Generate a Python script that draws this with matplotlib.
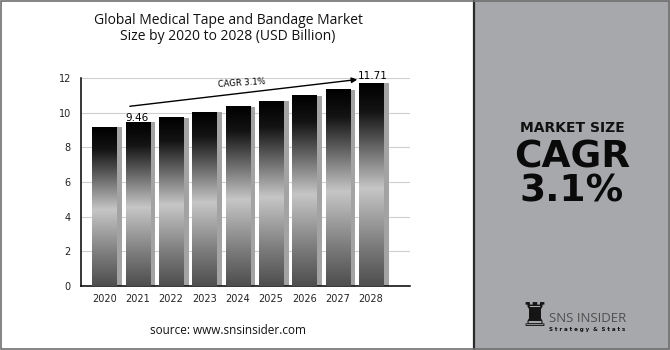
import matplotlib.pyplot as plt
import numpy as np
from matplotlib.colors import LinearSegmentedColormap
from matplotlib.patches import Rectangle

years = ["2020", "2021", "2022", "2023", "2024", "2025", "2026", "2027", "2028"]
market_size = [9.15, 9.46, 9.72, 10.03, 10.35, 10.66, 10.98, 11.33, 11.71]
y_ticks = [0, 2, 4, 6, 8, 10, 12]

W, H = 670, 350
fig = plt.figure(figsize=(W / 100, H / 100), dpi=100)

# background panels
fig.patches.append(Rectangle((474 / W, 0), 1 - 474 / W, 1, transform=fig.transFigure,
                             facecolor="#a7a8ab", edgecolor="none", zorder=0))
fig.add_artist(plt.Line2D([474 / W, 474 / W], [0, 1], transform=fig.transFigure,
                          color="#2a2a2a", lw=1.6))
fig.patches.append(Rectangle((0.001, 0.002), 0.997, 0.996, transform=fig.transFigure,
                             facecolor="none", edgecolor="#707070", lw=1.2, zorder=5))

ax = fig.add_axes([80.7 / W, 1 - 286 / H, (410 - 80.7) / W, (286 - 78) / H])

x = np.arange(len(years))
bw = 0.73

# bar gradient: black top, light band in the middle, dark grey bottom
cmap = LinearSegmentedColormap.from_list("bar", [
    (0.0, "#4e4e4e"), (0.2, "#7c7c7c"), (0.48, "#c6c6c6"),
    (0.72, "#555555"), (0.86, "#141414"), (1.0, "#000000")])
grad = np.linspace(0, 1, 256).reshape(-1, 1)

for xi, v in zip(x, market_size):
    # shadow on the right
    ax.add_patch(Rectangle((xi - bw / 2 + 0.16, 0), bw, v, facecolor="#a3a3a3",
                           edgecolor="none", zorder=2))
    ax.imshow(grad, cmap=cmap, origin="lower", aspect="auto",
              extent=[xi - bw / 2, xi + bw / 2, 0, v], zorder=3)

ax.set_xlim(-0.71, 9.17)
ax.set_ylim(0, 12)
ax.set_yticks(y_ticks)
ax.set_xticks(x)
ax.set_xticklabels(years)
ax.tick_params(length=0, labelsize=7, colors="#222222")
ax.tick_params(axis="y", pad=7)
ax.tick_params(axis="x", pad=6)
ax.grid(axis="y", color="#cfcfcf", lw=0.8, zorder=0)
ax.set_axisbelow(True)
for s in ["top", "right"]:
    ax.spines[s].set_visible(False)
ax.spines["left"].set_linewidth(1.1)
ax.spines["bottom"].set_linewidth(1.1)

# labels and CAGR arrow
ax.text(0.97, 9.72, "9.46", ha="center", va="center", fontsize=7.5, zorder=6)
ax.text(8.05, 12.1, "11.71", ha="center", va="center", fontsize=7.5, zorder=6,
        clip_on=False)
ax.annotate("", xy=(7.67, 11.93), xytext=(0.68, 10.35),
            arrowprops=dict(arrowstyle="-|>", color="black", lw=1, mutation_scale=8),
            annotation_clip=False, zorder=6)
ax.text(4.12, 11.73, "CAGR 3.1%", ha="center", va="center", fontsize=6, rotation=3.5,
        zorder=6)

fig.text(228 / W, 1 - 20 / H, "Global Medical Tape and Bandage Market", ha="center",
         va="center", fontsize=10, family="Open Sans", color="#111111")
fig.text(228 / W, 1 - 37 / H, "Size by 2020 to 2028 (USD Billion)", ha="center",
         va="center", fontsize=10, family="Open Sans", color="#111111")
fig.text(228 / W, 1 - 331 / H, "source: www.snsinsider.com", ha="center", va="center",
         fontsize=8.5, family="Open Sans", color="#111111")

# right panel
fig.text(572 / W, 1 - 128 / H, "MARKET SIZE", ha="center", va="center", fontsize=10,
         fontweight="bold", color="#111111")
fig.text(572 / W, 1 - 157 / H, "CAGR", ha="center", va="center", fontsize=27,
         fontweight="bold", color="#0a0a0a")
fig.text(572 / W, 1 - 191 / H, "3.1%", ha="center", va="center", fontsize=27,
         fontweight="bold", color="#0a0a0a")

# logo
fig.text(534 / W, 1 - 316 / H, "\u265c", ha="center", va="center", fontsize=24,
         color="#151515")
fig.text(549 / W, 1 - 319 / H, "SNS INSIDER", ha="left", va="center", fontsize=9.5,
         family="Open Sans", color="#505050")
fig.text(549 / W, 1 - 330 / H, "S t r a t e g y  &  S t a t s", ha="left", va="center",
         fontsize=4, fontweight="bold", color="#111111")

fig.savefig("out.png", dpi=100)
